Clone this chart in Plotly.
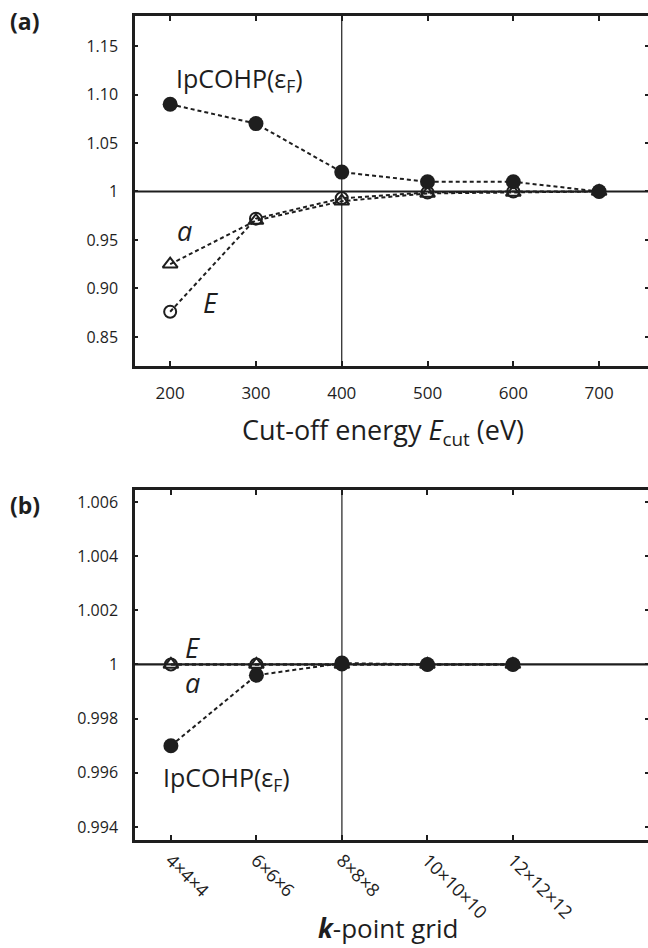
import plotly.graph_objects as go

# ---- data: panel (a) cut-off energy convergence ----
ecut = [200, 300, 400, 500, 600, 700]
a_ipcohp = [1.09, 1.07, 1.02, 1.01, 1.01, 1.00]
a_lat = [0.925, 0.970, 0.990, 0.998, 0.999, 1.000]
a_energy = [0.876, 0.972, 0.993, 0.999, 1.000, 1.000]
a_yticks = [0.85, 0.90, 0.95, 1.0, 1.05, 1.10, 1.15]
a_yticktext = ["0.85", "0.90", "0.95", "1", "1.05", "1.10", "1.15"]
a_xticks = [200, 300, 400, 500, 600, 700]

# ---- data: panel (b) k-point convergence ----
kgrid = ["4×4×4", "6×6×6", "8×8×8", "10×10×10", "12×12×12"]
b_ipcohp = [0.9970, 0.9996, 1.00005, 1.0, 1.0]
b_lat = [1.0, 1.0, 1.0, 1.0, 1.0]
b_energy = [1.0, 1.0, 1.0, 1.0, 1.0]
b_yticks = [0.994, 0.996, 0.998, 1.0, 1.002, 1.004, 1.006]
b_yticktext = ["0.994", "0.996", "0.998", "1", "1.002", "1.004", "1.006"]

FONT = "Open Sans"
INK = "#1e1e1e"
W, H = 648, 948
XL = 135 / W
ya_dom = [1 - 366 / H, 1 - 16 / H]
yb_dom = [1 - 840 / H, 1 - 490 / H]

fig = go.Figure()

line_style = dict(color=INK, width=2, dash="4px,3px")


def add_series(x, y, xa, ya, symbol, size, fill, name):
    fig.add_trace(go.Scatter(
        x=x, y=y, xaxis=xa, yaxis=ya, mode="lines+markers",
        line=line_style, name=name, showlegend=False,
        marker=dict(symbol=symbol, size=size,
                    color=INK if fill else "rgba(255,255,255,0)",
                    line=dict(color=INK, width=0 if fill else 2)),
        cliponaxis=False,
    ))


# panel a
add_series(ecut, a_energy, "x", "y", "circle", 12, False, "E")
add_series(ecut, a_lat, "x", "y", "triangle-up", 13, False, "a")
add_series(ecut, a_ipcohp, "x", "y", "circle", 15, True, "IpCOHP")
# panel b
add_series(kgrid, b_energy, "x2", "y2", "circle", 12, False, "E")
add_series(kgrid, b_lat, "x2", "y2", "triangle-up", 13, False, "a")
add_series(kgrid, b_ipcohp, "x2", "y2", "circle", 15, True, "IpCOHP")

# dummy traces for right-side ticks
fig.add_trace(go.Scatter(x=[None], y=[None], xaxis="x", yaxis="y3", showlegend=False))
fig.add_trace(go.Scatter(x=[None], y=[None], xaxis="x2", yaxis="y4", showlegend=False))

axcommon = dict(showline=True, linecolor=INK, linewidth=2.5, ticks="inside",
                tickcolor=INK, tickwidth=1.5, showgrid=False, zeroline=False)
ytf = dict(family=FONT, size=16, color=INK)
xtf = dict(family=FONT, size=17, color=INK)
ktf = dict(family=FONT, size=18, color=INK)

a_range_y = [0.82, 1.181]
b_range_y = [0.99352, 1.00644]

fig.update_layout(
    width=W, height=H, margin=dict(l=0, r=0, t=0, b=0),
    paper_bgcolor="white", plot_bgcolor="white",
    xaxis=dict(domain=[XL, 1.0], anchor="y", range=[159, 757], tickvals=a_xticks,
               mirror="ticks", ticklen=5, ticklabelstandoff=10, tickfont=xtf, **axcommon),
    yaxis=dict(domain=ya_dom, anchor="x", range=a_range_y, tickvals=a_yticks,
               ticktext=a_yticktext, ticklen=3, ticklabelstandoff=11, tickfont=ytf,
               **axcommon),
    yaxis3=dict(overlaying="y", side="right", anchor="x", range=a_range_y,
                tickvals=a_yticks, showticklabels=False, ticks="inside", ticklen=3,
                tickwidth=1.5, tickcolor=INK, showline=False, showgrid=False,
                zeroline=False),
    xaxis2=dict(domain=[XL, 1.0], anchor="y2", type="category", range=[-0.42, 5.58],
                categoryorder="array", categoryarray=kgrid, tickangle=45,
                mirror="ticks", ticklen=5, ticklabelstandoff=0, tickfont=ktf, **axcommon),
    yaxis2=dict(domain=yb_dom, anchor="x2", range=b_range_y, tickvals=b_yticks,
                ticktext=b_yticktext, ticklen=3, ticklabelstandoff=11, tickfont=ytf,
                **axcommon),
    yaxis4=dict(overlaying="y2", side="right", anchor="x2", range=b_range_y,
                tickvals=b_yticks, showticklabels=False, ticks="inside", ticklen=3,
                tickwidth=1.5, tickcolor=INK, showline=False, showgrid=False,
                zeroline=False),
)

# reference lines
for xr, yr, xv, yv in [("x", "y", 400, 1.0), ("x2", "y2", 2, 1.0)]:
    fig.add_shape(type="line", xref=xr, yref=yr + " domain", x0=xv, x1=xv, y0=0, y1=1,
                  line=dict(color=INK, width=1.2), layer="below")
    fig.add_shape(type="line", xref=xr + " domain", yref=yr, x0=0, x1=1, y0=yv, y1=yv,
                  line=dict(color=INK, width=2.2), layer="below")

lab = dict(family=FONT, size=25, color=INK)
ital = dict(family=FONT, size=27, color=INK)
title = dict(family=FONT, size=27, color=INK)
annos = [
    dict(x=204, y=1.115, xref="x", yref="y", text="IpCOHP(ε<sub>F</sub>)", xanchor="left", font=lab),
    dict(x=217, y=0.960, xref="x", yref="y", text="<i>a</i>", font=ital),
    dict(x=247, y=0.885, xref="x", yref="y", text="<i>E</i>", font=ital),
    dict(x=0.25, y=1.00062, xref="x2", yref="y2", text="<i>E</i>", font=ital),
    dict(x=0.25, y=0.99935, xref="x2", yref="y2", text="<i>a</i>", font=ital),
    dict(x=-0.12, y=0.99578, xref="x2", yref="y2", text="IpCOHP(ε<sub>F</sub>)", xanchor="left", font=lab),
    dict(x=383 / W, y=1 - 431 / H, xref="paper", yref="paper",
         text="Cut-off energy <i>E</i><sub>cut</sub> (eV)", font=title),
    dict(x=388 / W, y=1 - 928 / H, xref="paper", yref="paper",
         text="<b><i>k</i></b>-point grid", font=dict(family=FONT, size=26, color=INK)),
    dict(x=8 / W, y=1 - 21 / H, xref="paper", yref="paper", text="<b>(a)</b>",
         xanchor="left", font=dict(family=FONT, size=23, color=INK)),
    dict(x=8 / W, y=1 - 505 / H, xref="paper", yref="paper", text="<b>(b)</b>",
         xanchor="left", font=dict(family=FONT, size=23, color=INK)),
]
for a in annos:
    a.setdefault("xanchor", "center")
    fig.add_annotation(showarrow=False, yanchor="middle", **a)

fig.write_html(
    "out.html",
    config={"displayModeBar": False},
    post_script="document.body.style.margin='0';document.body.style.overflow='hidden';",
)
